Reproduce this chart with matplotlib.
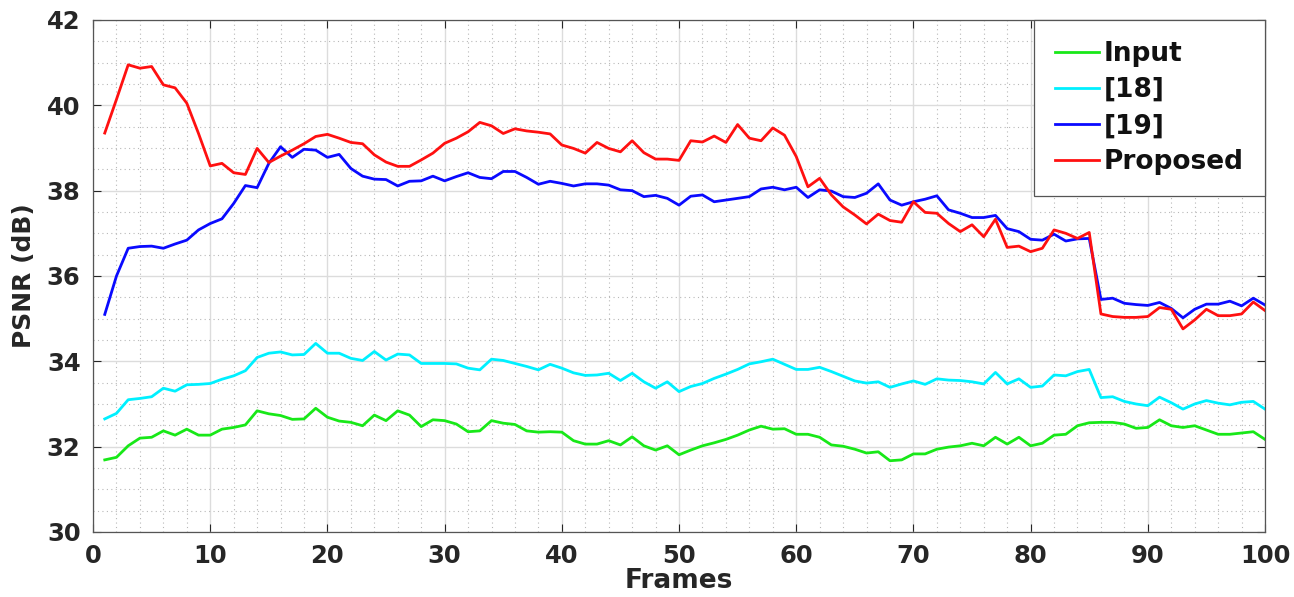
import numpy as np
import matplotlib
matplotlib.use("Agg")
import matplotlib.pyplot as plt
from matplotlib.ticker import MultipleLocator

frames = np.arange(1, 101)

psnr_input = [31.69, 31.75, 32.02, 32.20, 32.22, 32.37, 32.27, 32.41, 32.27, 32.27,
              32.41, 32.45, 32.51, 32.84, 32.77, 32.73, 32.64, 32.65, 32.90, 32.69,
              32.60, 32.57, 32.49, 32.74, 32.61, 32.84, 32.74, 32.47, 32.63, 32.61,
              32.53, 32.35, 32.37, 32.61, 32.55, 32.52, 32.37, 32.34, 32.35, 32.34,
              32.14, 32.06, 32.06, 32.14, 32.04, 32.23, 32.02, 31.92, 32.02, 31.81,
              31.92, 32.02, 32.09, 32.17, 32.27, 32.39, 32.48, 32.41, 32.42, 32.29,
              32.29, 32.22, 32.04, 32.01, 31.94, 31.85, 31.88, 31.67, 31.69, 31.83,
              31.83, 31.94, 31.99, 32.02, 32.08, 32.02, 32.22, 32.06, 32.22, 32.02,
              32.08, 32.27, 32.29, 32.49, 32.56, 32.57, 32.57, 32.53, 32.43, 32.45,
              32.63, 32.49, 32.45, 32.49, 32.39, 32.29, 32.29, 32.32, 32.35, 32.17]

psnr_18 = [32.65, 32.78, 33.10, 33.13, 33.17, 33.37, 33.30, 33.45, 33.46, 33.48,
           33.58, 33.66, 33.78, 34.09, 34.19, 34.22, 34.15, 34.16, 34.42, 34.19,
           34.19, 34.07, 34.02, 34.23, 34.03, 34.17, 34.15, 33.95, 33.95, 33.95,
           33.94, 33.84, 33.80, 34.05, 34.02, 33.95, 33.88, 33.80, 33.93, 33.84,
           33.73, 33.67, 33.68, 33.72, 33.55, 33.72, 33.52, 33.37, 33.52, 33.29,
           33.41, 33.48, 33.60, 33.70, 33.81, 33.94, 33.99, 34.05, 33.93, 33.81,
           33.81, 33.86, 33.76, 33.65, 33.54, 33.49, 33.52, 33.39, 33.47, 33.54,
           33.46, 33.59, 33.56, 33.55, 33.52, 33.47, 33.74, 33.47, 33.59, 33.39,
           33.42, 33.68, 33.66, 33.76, 33.81, 33.15, 33.17, 33.06, 33.00, 32.96,
           33.16, 33.03, 32.88, 33.00, 33.08, 33.02, 32.98, 33.04, 33.06, 32.88]

psnr_19 = [35.10, 36.00, 36.65, 36.69, 36.70, 36.65, 36.75, 36.84, 37.08, 37.23,
           37.34, 37.70, 38.12, 38.07, 38.64, 39.03, 38.78, 38.97, 38.95, 38.78,
           38.85, 38.52, 38.34, 38.27, 38.26, 38.11, 38.22, 38.23, 38.34, 38.23,
           38.33, 38.42, 38.31, 38.28, 38.45, 38.45, 38.31, 38.15, 38.22, 38.17,
           38.11, 38.16, 38.16, 38.13, 38.02, 38.00, 37.86, 37.89, 37.82, 37.66,
           37.87, 37.90, 37.74, 37.78, 37.82, 37.86, 38.04, 38.08, 38.02, 38.08,
           37.84, 38.02, 37.99, 37.86, 37.84, 37.94, 38.16, 37.78, 37.66, 37.74,
           37.80, 37.88, 37.55, 37.47, 37.37, 37.37, 37.42, 37.11, 37.04, 36.86,
           36.84, 36.98, 36.82, 36.87, 36.88, 35.45, 35.48, 35.36, 35.33, 35.31,
           35.38, 35.24, 35.02, 35.22, 35.34, 35.34, 35.41, 35.30, 35.48, 35.32]

psnr_proposed = [39.35, 40.14, 40.95, 40.87, 40.91, 40.48, 40.41, 40.05, 39.34, 38.58,
                 38.64, 38.42, 38.38, 38.99, 38.66, 38.81, 38.95, 39.10, 39.27, 39.32,
                 39.23, 39.13, 39.10, 38.84, 38.67, 38.57, 38.57, 38.72, 38.88, 39.11,
                 39.23, 39.38, 39.60, 39.52, 39.34, 39.45, 39.40, 39.37, 39.33, 39.07,
                 38.99, 38.88, 39.13, 38.99, 38.91, 39.17, 38.89, 38.74, 38.74, 38.71,
                 39.17, 39.14, 39.28, 39.13, 39.55, 39.23, 39.17, 39.47, 39.30, 38.80,
                 38.09, 38.29, 37.90, 37.62, 37.43, 37.22, 37.45, 37.30, 37.26, 37.74,
                 37.49, 37.47, 37.23, 37.04, 37.20, 36.92, 37.33, 36.67, 36.70, 36.57,
                 36.65, 37.08, 37.00, 36.88, 37.02, 35.11, 35.05, 35.03, 35.03, 35.05,
                 35.26, 35.22, 34.76, 34.97, 35.22, 35.07, 35.07, 35.11, 35.39, 35.19]

series = [(psnr_input, "#18e818", "Input"),
          (psnr_18, "#00f0ff", "[18]"),
          (psnr_19, "#0a0aff", "[19]"),
          (psnr_proposed, "#ff1010", "Proposed")]

plt.rcParams['font.family'] = ['DejaVu Sans']
plt.rcParams['font.weight'] = 'bold'

fig = plt.figure(figsize=(12.94, 5.97), dpi=100)
ax = fig.add_axes([0.0719, 0.1089, 0.9057, 0.8576])

for vals, col, name in series:
    ax.plot(frames, vals, color=col, lw=2.0, label=name)

ax.set_xlim(0, 100)
ax.set_ylim(30, 42)
ax.xaxis.set_major_locator(MultipleLocator(10))
ax.xaxis.set_minor_locator(MultipleLocator(2))
ax.yaxis.set_major_locator(MultipleLocator(2))
ax.yaxis.set_minor_locator(MultipleLocator(0.5))

ax.grid(which='major', color='#dcdcdc', lw=1.0, ls='-')
ax.grid(which='minor', color='#b8b8b8', lw=0.8, ls=(0, (1, 3)))
ax.set_axisbelow(True)

ax.tick_params(which='major', direction='in', length=6, top=True, right=True,
               labelsize=17.5, colors='#262626', width=0.8)
ax.tick_params(axis='x', which='major', pad=9)
ax.tick_params(axis='y', which='major', pad=9)
ax.tick_params(which='minor', length=0)
for lab in ax.get_xticklabels() + ax.get_yticklabels():
    lab.set_fontweight('bold')
for sp in ax.spines.values():
    sp.set_color('#555555')
    sp.set_linewidth(0.9)

ax.set_xlabel('Frames', fontsize=19, fontweight='bold', color='#262626', labelpad=0)
ax.set_ylabel('PSNR (dB)', fontsize=18, fontweight='bold', color='#262626', labelpad=8)

leg = ax.legend(loc='upper right', fontsize=19, fancybox=False, framealpha=1,
                edgecolor='#555555', borderaxespad=0, handlelength=1.65,
                handletextpad=0.2, labelspacing=0.38, borderpad=0.8)
leg.get_frame().set_linewidth(0.9)
for t in leg.get_texts():
    t.set_fontweight('bold')
    t.set_color('#111111')

fig.savefig('out.png', dpi=100)
